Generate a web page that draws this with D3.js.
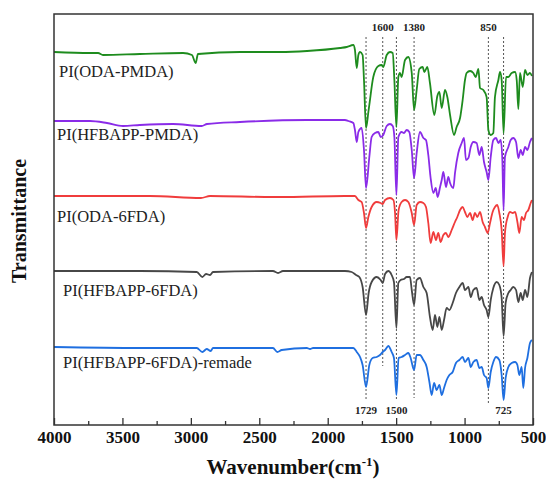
<!DOCTYPE html>
<html>
<head>
<meta charset="utf-8">
<script src="https://cdn.jsdelivr.net/npm/d3@7"></script>
<style>
  body { margin: 0; background: #fff; }
  svg { display: block; font-family: "Times New Roman", "Liberation Serif", serif; }
</style>
</head>
<body>
<svg id="chart" width="546" height="482"></svg>
<script>
// spectra: [wavenumber (cm-1), transmittance (a.u., already stacked)]
const odaPmda = [
  [4000,372],[3737,371],[3678,371],[3642,369],[3372,370],[3057,371],[2992,369],[2965,361],[2948,370],
  [2641,372],[2349,372],[2151,373],[1910,376],[1861,377],[1813,379],[1801,374],[1788,356],[1776,369],
  [1764,372],[1745,369],[1735,344],[1720,296],[1703,312],[1696,319],[1667,347],[1630,358],[1606,359],
  [1594,357],[1569,369],[1545,372],[1525,371],[1513,344],[1498,297],[1484,347],[1472,351],[1460,347],
  [1435,364],[1411,367],[1386,351],[1369,314],[1350,334],[1331,355],[1306,357],[1294,352],[1272,357],
  [1253,341],[1221,309],[1199,328],[1184,332],[1167,316],[1143,334],[1126,327],[1106,309],[1077,289],
  [1058,297],[1033,306],[1014,324],[997,344],[985,351],[960,353],[936,351],[919,347],[899,355],[887,336],
  [863,334],[839,327],[826,294],[809,289],[790,291],[778,327],[753,344],[741,352],[729,344],[715,291],
  [697,347],[680,347],[656,351],[631,352],[619,344],[607,315],[595,351],[575,337],[558,354],[541,349],
  [522,351],[508,348]
];
const hfbappPmda = [
  [4000,303],[3737,303],[3613,301],[3496,298],[3372,299],[3130,300],[2921,298],[2882,300],[2641,302],
  [2151,304],[1874,304],[1849,303],[1813,301],[1801,294],[1788,282],[1776,292],[1752,296],[1735,274],
  [1720,236],[1696,267],[1679,287],[1654,291],[1630,292],[1613,287],[1594,289],[1569,298],[1545,300],
  [1525,298],[1513,287],[1498,229],[1484,287],[1460,292],[1443,291],[1423,294],[1404,292],[1386,274],
  [1369,246],[1350,271],[1326,292],[1301,286],[1282,284],[1265,269],[1248,246],[1228,231],[1211,236],
  [1197,227],[1179,237],[1167,244],[1155,252],[1136,237],[1119,247],[1106,241],[1082,236],[1070,251],
  [1046,271],[1021,281],[1004,286],[990,264],[972,266],[955,277],[936,282],[912,281],[892,269],[875,277],
  [858,262],[839,252],[826,244],[809,267],[790,284],[770,286],[753,281],[736,284],[724,264],[715,214],
  [705,267],[680,277],[663,284],[644,286],[624,282],[607,266],[590,274],[575,269],[558,277],[541,274],
  [522,282],[508,286]
];
const oda6fda = [
  [4000,228],[3299,228],[2926,226],[2860,228],[2400,227],[2349,227],[1874,228],[1801,228],[1776,224],
  [1752,222],[1735,211],[1720,196],[1703,207],[1679,217],[1642,222],[1613,221],[1598,220],[1581,224],
  [1545,226],[1520,224],[1508,211],[1498,184],[1482,214],[1460,222],[1435,224],[1411,222],[1386,211],
  [1369,199],[1350,219],[1326,222],[1301,221],[1282,217],[1265,201],[1248,181],[1228,192],[1209,184],
  [1192,191],[1175,182],[1155,189],[1136,191],[1119,187],[1094,194],[1070,202],[1053,207],[1033,214],
  [1014,217],[997,212],[980,207],[960,211],[941,204],[924,211],[907,207],[887,212],[868,202],[851,197],
  [831,191],[814,201],[795,212],[778,217],[761,219],[746,211],[729,194],[715,158],[705,191],[685,207],
  [668,212],[648,211],[631,212],[614,202],[600,191],[583,207],[566,204],[551,211],[534,214],[517,221],
  [508,224]
];
const hfbapp6fda = [
  [4000,153],[3372,153],[2957,152],[2916,147],[2889,150],[2860,149],[2838,152],[2400,153],[2363,151],
  [2327,153],[1874,153],[1825,152],[1793,149],[1769,147],[1745,137],[1720,109],[1701,131],[1679,142],
  [1642,147],[1613,144],[1598,141],[1581,150],[1557,153],[1533,149],[1516,142],[1498,96],[1484,141],
  [1467,144],[1443,145],[1423,147],[1399,147],[1386,134],[1369,119],[1350,144],[1326,146],[1301,137],
  [1277,131],[1253,107],[1233,94],[1216,109],[1199,97],[1184,107],[1167,94],[1150,104],[1131,116],
  [1111,114],[1087,121],[1063,131],[1038,137],[1014,141],[997,134],[972,137],[955,127],[936,134],
  [912,136],[892,124],[875,127],[858,119],[839,114],[826,107],[809,124],[790,136],[765,142],[746,139],
  [729,126],[715,88],[700,121],[680,131],[663,134],[644,137],[624,134],[607,122],[590,131],[575,124],
  [558,134],[541,127],[522,146],[508,152]
];
const hfbapp6fdaRemade = [
  [4000,77],[3372,76],[2957,76],[2916,72],[2884,75],[2855,73],[2838,76],[2400,76],[2368,72],[2336,74],
  [2153,76],[2129,75],[2107,76],[1874,76],[1813,76],[1788,72],[1764,67],[1745,59],[1720,37],[1696,59],
  [1672,66],[1642,67],[1618,69],[1598,72],[1581,74],[1557,78],[1533,72],[1516,66],[1498,29],[1482,66],
  [1460,67],[1435,69],[1411,71],[1394,66],[1369,54],[1350,69],[1326,69],[1301,64],[1277,57],[1257,42],
  [1240,29],[1223,41],[1204,34],[1184,39],[1167,29],[1150,36],[1131,44],[1111,49],[1087,52],[1063,61],
  [1038,64],[1014,67],[997,62],[972,66],[955,57],[936,62],[912,64],[892,56],[875,57],[858,49],[839,46],
  [826,36],[809,52],[790,62],[770,67],[746,64],[729,49],[715,24],[700,46],[680,57],[656,61],[631,62],
  [614,59],[600,49],[583,57],[571,36],[558,56],[541,66],[522,81],[508,84]
];

const seriesNames = ["PI(ODA-PMDA)", "PI(HFBAPP-PMDA)", "PI(ODA-6FDA)", "PI(HFBAPP-6FDA)", "PI(HFBAPP-6FDA)-remade"];
const seriesData = [odaPmda, hfbappPmda, oda6fda, hfbapp6fda, hfbapp6fdaRemade];

// band markers (dashed lines)
const bandPositions = [1720, 1598, 1498, 1369, 826, 715];
const bandLabels = ["1729", "1600", "1500", "1380", "850", "725"];
const bandLabelTop = [false, true, false, true, true, false];
const bandLow = [24, 58, 24, 26, 21, 24];
const bandHigh = 387;

const majorTicks = [4000, 3500, 3000, 2500, 2000, 1500, 1000, 500];
const minorTicks = [3750, 3250, 2750, 2250, 1750, 1250, 750];

// styling
const colors = ["#1e8c1e", "#8a2be8", "#f03c3c", "#474747", "#1f6fe0"];
const labelPos = [[59, 77], [57, 140], [57, 222], [63, 296], [63, 368]];

const plotLeft = 54, plotRight = 533, plotTop = 14, plotBottom = 424;

const svg = d3.select("#chart");

const x = d3.scaleLinear().domain([4000, 500]).range([plotLeft, plotRight]);
const y = d3.scaleLinear().domain([0, 410]).range([plotBottom, plotTop]);

const line = d3.line()
  .x(d => x(d[0]))
  .y(d => y(d[1]))
  .curve(d3.curveMonotoneX);

// dashed band lines
bandPositions.forEach((w, i) => {
  svg.append("line")
    .attr("x1", x(w)).attr("x2", x(w))
    .attr("y1", y(bandHigh)).attr("y2", y(bandLow[i]))
    .attr("stroke", "#555")
    .attr("stroke-width", 1)
    .attr("stroke-dasharray", "2,2");
  svg.append("text")
    .attr("x", x(w))
    .attr("y", bandLabelTop[i] ? 31 : 414)
    .attr("text-anchor", "middle")
    .attr("font-size", 11)
    .attr("font-weight", "bold")
    .attr("fill", "#222")
    .text(bandLabels[i]);
});

// spectra
seriesData.forEach((data, i) => {
  svg.append("path")
    .attr("d", line(data))
    .attr("fill", "none")
    .attr("stroke", colors[i])
    .attr("stroke-width", 1.8)
    .attr("stroke-linejoin", "round");
  svg.append("text")
    .attr("x", labelPos[i][0])
    .attr("y", labelPos[i][1])
    .attr("font-size", 16.5)
    .attr("fill", "#222")
    .text(seriesNames[i]);
});

// frame
svg.append("rect")
  .attr("x", plotLeft).attr("y", plotTop)
  .attr("width", plotRight - plotLeft).attr("height", plotBottom - plotTop + 1)
  .attr("fill", "none")
  .attr("stroke", "#333")
  .attr("stroke-width", 1.5);

// x axis, ticks pointing inward
const axisG = svg.append("g").attr("transform", `translate(0,${plotBottom + 1})`);
axisG.call(d3.axisBottom(x).tickValues(majorTicks).tickSize(-7).tickPadding(6).tickFormat(d3.format("d")));
axisG.select(".domain").remove();
axisG.selectAll(".tick line").attr("stroke", "#333").attr("stroke-width", 1.3);
axisG.selectAll(".tick text")
  .attr("font-family", "'Times New Roman', 'Liberation Serif', serif")
  .attr("font-size", 17)
  .attr("font-weight", "bold")
  .attr("fill", "#111");

const minorG = svg.append("g").attr("transform", `translate(0,${plotBottom + 1})`);
minorG.call(d3.axisBottom(x).tickValues(minorTicks).tickSize(-4).tickFormat(""));
minorG.select(".domain").remove();
minorG.selectAll(".tick line").attr("stroke", "#333").attr("stroke-width", 1.3);

// axis titles
const xTitle = svg.append("text")
  .attr("x", 293).attr("y", 474)
  .attr("text-anchor", "middle")
  .attr("font-size", 21)
  .attr("font-weight", "bold")
  .attr("fill", "#111");
xTitle.append("tspan").text("Wavenumber(cm");
xTitle.append("tspan").attr("font-size", 13).attr("dy", -8).text("-1");
xTitle.append("tspan").attr("dy", 8).text(")");

svg.append("text")
  .attr("transform", "translate(26,221) rotate(-90)")
  .attr("text-anchor", "middle")
  .attr("font-size", 20)
  .attr("font-weight", "bold")
  .attr("fill", "#111")
  .text("Transmittance");
</script>
</body>
</html>
